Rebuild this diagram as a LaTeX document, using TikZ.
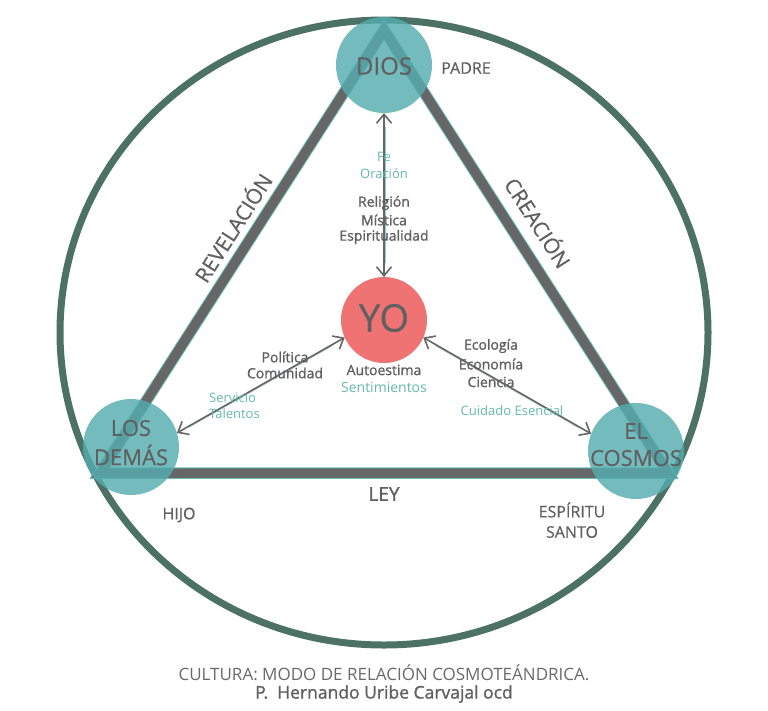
\documentclass[tikz,border=0pt]{standalone}
\usepackage{fontspec}
\setmainfont{Open Sans}
\newfontfamily\semib{Open Sans}[FakeBold=1.3]
\newfontfamily\medf{Open Sans}[FakeBold=0.6]
\usetikzlibrary{arrows.meta}
\definecolor{ringc}{RGB}{76,114,102}
\definecolor{trig}{RGB}{102,102,102}
\definecolor{trit}{RGB}{110,190,185}
\definecolor{circc}{RGB}{84,172,175}
\definecolor{yoc}{RGB}{240,115,115}
\definecolor{txtg}{RGB}{96,96,96}
\definecolor{txtt}{RGB}{100,185,172}
\definecolor{capg}{RGB}{105,105,105}
\definecolor{fringe}{RGB}{150,200,215}
\newcommand{\fsz}[1]{\fontsize{#1}{#1}\selectfont}
\tikzset{
  bigc/.style={circle, fill=circc, fill opacity=0.82, inner sep=0pt, outer sep=0pt, minimum size=96pt},
  yoball/.style={circle, fill=yoc, inner sep=0pt, outer sep=0pt, minimum size=86pt},
  lbl/.style={text=txtg, inner sep=0pt, anchor=center},
  tlbl/.style={text=txtt, inner sep=0pt, anchor=center},
  arr/.style={draw=trig, line width=1.6pt, {Straight Barb[length=9pt,width=15pt]}-{Straight Barb[length=9pt,width=15pt]}},
  fringeline/.style={draw=fringe, line width=0.7pt}
}
\begin{document}
\begin{tikzpicture}[x=1pt,y=-1pt]
\useasboundingbox (0,0) rectangle (768,710);
% outer ring
\draw[ringc, line width=7pt] (384,332.5) ellipse [x radius=324, y radius=312.5];
% triangle
\coordinate (ta) at (384,30);
\coordinate (tb) at (100,473);
\coordinate (tc) at (668,473);
\draw[trit, line width=11.5pt, line join=miter] (ta) -- (tb) -- (tc) -- cycle;
\draw[trig, line width=9.5pt, line join=miter] (ta) -- (tb) -- (tc) -- cycle;
% circles (positions)
\coordinate (pdios) at (384,65);
\coordinate (pdemas) at (131,447);
\coordinate (pcosmos) at (636,451);
\node[yoball] (yo) at (384,320) {};
\node[circle, inner sep=0pt, outer sep=0pt, minimum size=96pt] (dios) at (pdios) {};
\node[circle, inner sep=0pt, outer sep=0pt, minimum size=96pt] (demas) at (pdemas) {};
\node[circle, inner sep=0pt, outer sep=0pt, minimum size=96pt] (cosmos) at (pcosmos) {};
% arrows
\draw[fringeline, shorten >=14pt, shorten <=14pt, transform canvas={xshift=1.3pt}] (dios.south) -- (yo.north);
\draw[arr] (dios.south) -- (yo.north);
\draw[fringeline, shorten >=14pt, shorten <=14pt, transform canvas={yshift=-1.2pt}] (yo.204) -- (demas.17);
\draw[arr] (yo.204) -- (demas.17);
\draw[fringeline, shorten >=14pt, shorten <=14pt, transform canvas={yshift=-1.2pt}] (yo.336) -- (cosmos.159);
\draw[arr] (yo.336) -- (cosmos.159);
% translucent circles
\node[bigc] (diosfill) at (pdios) {};
\node[bigc] (demasfill) at (pdemas) {};
\node[bigc] (cosmosfill) at (pcosmos) {};
% circle labels
\node[lbl, font=\medf\fsz{24}] (tdios) at (384,66) {DIOS};
\node[lbl, font=\medf\fsz{38}] (tyo) at (384,318) {YO};
\node[lbl, font=\medf\fsz{22}] (tlos) at (131,428) {LOS};
\node[lbl, font=\medf\fsz{22}] (tdem) at (131,455) {DEMÁS};
\node[lbl, font=\medf\fsz{22}] (tel) at (636,431) {EL};
\node[lbl, font=\medf\fsz{22}] (tcos) at (636,458) {COSMOS};
% outer labels
\node[lbl, font=\medf\fsz{16}] (padre) at (466,68) {PADRE};
\node[lbl, font=\medf\fsz{16}] (hijo) at (179,515) {HIJO};
\node[lbl, font=\medf\fsz{16}] (esp) at (572,510) {ESPÍRITU};
\node[lbl, font=\medf\fsz{16}] (santo) at (572,532) {SANTO};
\node[lbl, font=\semib\fsz{19}] (ley) at (384,494) {LEY};
\node[lbl, font=\medf\fsz{21}, rotate=57.3] (rev) at (232,227) {REVELACIÓN};
\node[lbl, font=\medf\fsz{21}, rotate=-57.3] (cre) at (539,222) {CREACIÓN};
% inner labels
\node[tlbl, font=\fsz{13}] (fe) at (384,157) {Fe};
\node[tlbl, font=\fsz{13}] (ora) at (384,174) {Oración};
\node[lbl, font=\semib\fsz{14}] (rel) at (384,203) {Religión};
\node[lbl, font=\semib\fsz{14}] (mis) at (384,220) {Mística};
\node[lbl, font=\semib\fsz{14}] (espi) at (384,237) {Espiritualidad};
\node[lbl, font=\semib\fsz{14}] (pol) at (285,357) {Política};
\node[lbl, font=\semib\fsz{14}] (com) at (285,373) {Comunidad};
\node[lbl, font=\semib\fsz{14}] (aut) at (384,370) {Autoestima};
\node[tlbl, font=\fsz{14}] (sen) at (384,387) {Sentimientos};
\node[lbl, font=\semib\fsz{14}] (eco) at (491,346) {Ecología};
\node[lbl, font=\semib\fsz{14}] (econ) at (491,364) {Economía};
\node[lbl, font=\semib\fsz{14}] (cie) at (491,382) {Ciencia};
\node[tlbl, font=\fsz{13}, anchor=west] (ser) at (209,398) {Servicio};
\node[tlbl, font=\fsz{13}, anchor=west] (tal) at (209,414) {Talentos};
\node[tlbl, font=\fsz{13}] (cui) at (512,411) {Cuidado Esencial};
% caption
\node[text=capg, inner sep=0pt, font=\fsz{17}] (cap1) at (384,673) {CULTURA: MODO DE RELACIÓN COSMOTEÁNDRICA.};
\node[text=txtg, inner sep=0pt, font=\semib\fsz{17.5}] (cap2) at (384,694) {P.\ \ Hernando Uribe Carvajal ocd};
\end{tikzpicture}
\end{document}
